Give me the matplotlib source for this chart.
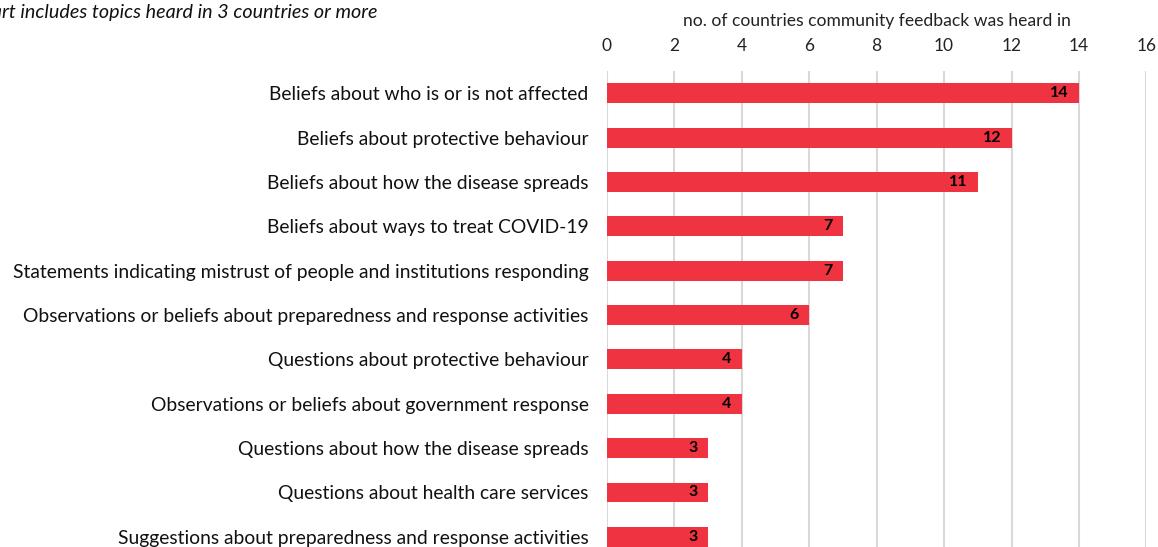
import matplotlib.pyplot as plt

plt.rcParams["font.family"] = ["Lato", "DejaVu Sans"]

topics = [
    "Beliefs about who is or is not affected",
    "Beliefs about protective behaviour",
    "Beliefs about how the disease spreads",
    "Beliefs about ways to treat COVID-19",
    "Statements indicating mistrust of people and institutions responding",
    "Observations or beliefs about preparedness and response activities",
    "Questions about protective behaviour",
    "Observations or beliefs about government response",
    "Questions about how the disease spreads",
    "Questions about health care services",
    "Suggestions about preparedness and response activities",
]
countries = [14, 12, 11, 7, 7, 6, 4, 4, 3, 3, 3]
ticks = [0, 2, 4, 6, 8, 10, 12, 14, 16]

fig = plt.figure(figsize=(11.58, 5.47), dpi=100)
ax = fig.add_axes([0.524, -0.022, 0.466, 0.892])

ypos = list(range(len(topics)))
bars = ax.barh(ypos, countries, height=0.45, color="#EF3340", zorder=3)

# value labels inside the bar end
for y, v in zip(ypos, countries):
    ax.text(v - 0.3, y, str(v), ha="right", va="center",
            fontsize=11.5, fontweight="bold", color="black", zorder=4)

ax.set_yticks(ypos)
ax.set_yticklabels(topics, fontsize=13.9, color="#111111")
ax.set_ylim(len(topics) - 0.5, -0.5)
ax.set_xlim(0, 16)
ax.set_xticks(ticks)
ax.xaxis.tick_top()
ax.xaxis.set_label_position("top")
ax.set_xlabel("no. of countries community feedback was heard in",
              fontsize=12.6, color="#222222", labelpad=9)
ax.tick_params(axis="x", length=0, labelsize=12.5, colors="#222222", pad=12)
ax.tick_params(axis="y", length=0, pad=13)

ax.grid(axis="x", color="#D9D9D9", linewidth=1.5, zorder=0)
ax.set_axisbelow(True)
for spine in ax.spines.values():
    spine.set_visible(False)

# note runs off the left edge, as in the original
fig.text(0.326, 0.978, "Chart includes topics heard in 3 countries or more",
         ha="right", va="center", fontsize=14.2, style="italic", color="#111111")

fig.savefig("out.png", dpi=100)
